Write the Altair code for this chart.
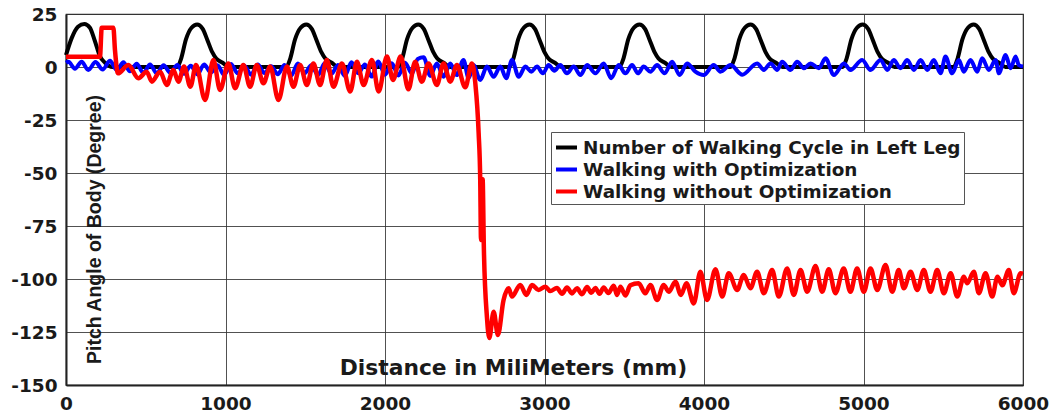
import altair as alt
import pandas as pd

SERIES = ["Number of Walking Cycle in Left Leg",
          "Walking with Optimization",
          "Walking without Optimization"]
COLORS = ["#000000", "#0000ff", "#ff0000"]

# --- black: walking-cycle bumps (distance mm, degree) ---
black_x = [0, 35, 75, 115, 150, 180, 213, 245, 290,
           697, 722, 752, 787, 822, 857, 885, 917, 942, 982, 1022,
           1381, 1406, 1436, 1471, 1506, 1541, 1569, 1601, 1626, 1666, 1706,
           2083, 2108, 2138, 2173, 2208, 2243, 2271, 2303, 2328, 2368, 2408,
           2780, 2805, 2835, 2870, 2905, 2940, 2968, 3000, 3025, 3065, 3105,
           3470, 3495, 3525, 3560, 3595, 3630, 3658, 3690, 3715, 3755, 3795,
           4166, 4191, 4221, 4256, 4291, 4326, 4354, 4386, 4411, 4451, 4491,
           4869, 4894, 4924, 4959, 4994, 5029, 5057, 5089, 5114, 5154, 5194,
           5565, 5590, 5620, 5655, 5690, 5725, 5753, 5785, 5810, 5850, 5890,
           6000]
black_y = [5.6, 13.5, 19.0, 20.3, 18.5, 12.5, 5.0, 2.0, 0.0,
           0, 4, 13, 18.5, 20, 18, 13, 7, 4, 2, 0,
           0, 4, 13, 18.5, 20, 18, 13, 7, 4, 2, 0,
           0, 4, 13, 18.5, 20, 18, 13, 7, 4, 2, 0,
           0, 4, 13, 18.5, 20, 18, 13, 7, 4, 2, 0,
           0, 4, 13, 18.5, 20, 18, 13, 7, 4, 2, 0,
           0, 4, 13, 18.5, 20, 18, 13, 7, 4, 2, 0,
           0, 4, 13, 18.5, 20, 18, 13, 7, 4, 2, 0,
           0, 4, 13, 18.5, 20, 18, 13, 7, 4, 2, 0,
           0]

# --- blue: walking with optimization (peaks / troughs) ---
blue_x = [0, 15, 56, 98, 140, 185, 230, 276, 318, 360, 401, 443, 485, 527, 569, 612, 655, 698,
          740, 782, 824, 866, 908, 950, 992, 1034, 1076, 1118, 1160, 1202, 1244, 1286, 1328, 1370,
          1412, 1454, 1496, 1538, 1580, 1622, 1664, 1706, 1748, 1790, 1832, 1874, 1916, 1958, 2000,
          2042, 2084, 2126, 2168, 2205, 2242, 2284, 2325, 2367, 2409, 2450, 2492, 2524, 2555, 2597,
          2639, 2681, 2723, 2760, 2796, 2838, 2880, 2917, 2953, 2990, 3026, 3062, 3099, 3141, 3183,
          3225, 3267, 3319, 3371, 3418, 3465, 3507, 3549, 3586, 3622, 3664, 3706, 3753, 3800, 3847,
          3894, 3946, 3998, 4061, 4103, 4166, 4240, 4333, 4375, 4417, 4459, 4490, 4542, 4584, 4626,
          4668, 4720, 4762, 4814, 4877, 4918, 4992, 5044, 5107, 5149, 5190, 5232, 5274, 5316, 5358,
          5400, 5441, 5483, 5514, 5556, 5598, 5629, 5671, 5713, 5744, 5786, 5828, 5849, 5891, 5922,
          5954, 5974, 6000]
blue_y = [2.0, 2.5, -0.8, 2.5, -1.4, 2.3, -1.2, 3.0, -1.4, 2.2, -2.0, 1.5, -2.8, 1.2, -3.0, 0.8, -2.8, 1.0,
          -3.2, 0.6, -3.5, 1.2, -2.6, 0.8, -3.8, 1.4, -3.0, 0.6, -3.6, 1.2, -2.8, 0.4, -3.4, 1.0,
          -4.0, 1.6, -3.0, 0.8, -3.8, 1.8, -3.2, 1.0, -4.2, 2.2, -3.0, 1.2, -4.5, 2.6, -3.6,
          1.8, -4.0, 2.0, -3.0, 3.8, 4.6, -4.2, 1.7, -4.6, 1.7, -3.8, 3.3, -5.3, 0.9, -6.1,
          0.2, -4.6, 0.2, -5.3, 3.3, -4.6, 0.2, -2.2, 0.2, -3.0, 0.9, -1.8, 0.9, -3.0, 0.2,
          -3.8, 0.9, -3.0, 1.7, -5.3, 0.9, -3.0, 0.9, -3.0, 0.2, -2.2, 0.9, -3.0, 2.5, -3.8,
          1.7, -2.2, -3.8, 0.9, -2.2, 0.9, -3.6, 1.7, -1.4, 1.7, -1.4, 2.5, -1.4, 2.5, -0.6,
          1.7, -0.6, 4.1, -3.8, 1.7, -1.4, 3.3, -1.4, 3.3, -1.4, 3.3, -0.6, 3.3, -1.4, 3.3,
          -1.4, 3.3, -3.0, 4.9, -3.0, 3.3, -2.2, 3.3, -2.2, 4.1, -1.4, 3.3, -3.0, 5.7, -0.6,
          4.9, 0.9, 0.2]

# --- red: walking without optimization (peaks / troughs) ---
red_x = [0, 213, 224, 297, 307, 326, 391, 454, 506, 538, 590, 632, 673, 705, 740, 780, 815, 872,
         924, 966, 1018, 1060, 1112, 1154, 1196, 1238, 1280, 1332, 1385, 1426, 1468, 1510, 1551,
         1593, 1635, 1677, 1730, 1782, 1824, 1866, 1918, 1960, 2012, 2050, 2098, 2147, 2189, 2231,
         2273, 2325, 2367, 2409, 2451, 2503, 2545, 2566, 2587, 2597, 2602, 2612, 2620, 2639, 2654,
         2681, 2708, 2743, 2775, 2796, 2848, 2886, 2922, 2963, 3005, 3036, 3078, 3110, 3141, 3172,
         3204, 3235, 3267, 3293, 3319, 3345, 3371, 3400, 3434, 3455, 3476, 3507, 3538, 3590, 3632,
         3664, 3706, 3747, 3779, 3821, 3855, 3890, 3936, 3977, 4019, 4072, 4114, 4155, 4208, 4249,
         4291, 4333, 4375, 4427, 4469, 4521, 4563, 4605, 4647, 4699, 4741, 4782, 4824, 4876, 4918,
         4960, 5002, 5044, 5086, 5138, 5180, 5221, 5253, 5295, 5337, 5378, 5420, 5462, 5504, 5546,
         5588, 5629, 5650, 5692, 5723, 5765, 5807, 5840, 5870, 5911, 5942, 5985, 6000]
red_y = [4.8, 4.8, 18.5, 18.5, 8.0, -3.0, 0.9, -5.3, -2.2, -6.9, -2.2, -8.5, -1.4, -6.9, 0.2, -9.3, 0.9, -15.6,
         3.3, -10.8, 1.7, -10.0, 0.9, -9.3, 0.9, -7.7, 0.2, -15.6, 0.2, -9.3, 0.9, -8.5, 1.7,
         -8.5, 3.3, -9.3, 1.7, -11.6, 2.5, -8.5, 3.3, -11.6, 5.0, -6.1, 4.9, -10.5, 2.5, -6.9,
         1.7, -8.5, 1.7, -6.9, 0.9, -9.6, 1.7, -7.5, -31.0, -53.0, -81.6, -53.0, -86.0, -117.8, -127.8,
         -115.4, -126.4, -110.0, -104.4, -108.3, -102.8, -107.5, -102.8, -105.2, -103.6, -105.7, -104.2, -107.0, -104.0, -106.8,
         -104.4, -107.2, -103.8, -106.5, -104.2, -107.0, -104.0, -106.6, -103.2, -107.5, -103.6, -107.8, -103.0, -102.0, -106.7,
         -102.8, -109.9, -102.8, -106.0, -101.3, -107.5, -102.0, -111.5, -96.6, -109.9, -95.4, -108.3, -97.3, -105.2, -98.1,
         -104.4, -96.6, -106.7, -95.8, -108.3, -95.0, -107.5, -95.8, -106.0, -93.9, -106.0, -95.4, -106.7, -95.0, -106.0,
         -95.0, -106.0, -95.0, -105.2, -93.4, -106.0, -95.8, -104.4, -96.6, -105.2, -95.8, -106.0, -95.8, -106.7, -97.3,
         -108.3, -98.9, -102.0, -96.6, -106.7, -97.3, -108.3, -98.9, -103.0, -95.8, -106.7, -97.3, -97.5]

X_TICKS = [0, 1000, 2000, 3000, 4000, 5000, 6000]
Y_TICKS = [-150, -125, -100, -75, -50, -25, 0, 25]

df_black = pd.DataFrame({"x": black_x, "y": black_y, "series": SERIES[0]})
df_blue = pd.DataFrame({"x": blue_x, "y": blue_y, "series": SERIES[1]})
df_red = pd.DataFrame({"x": red_x, "y": red_y, "series": SERIES[2]})

HFONT = "DejaVu Sans"
VFONT = "Liberation Sans"
TXT = "#1a1a1a"

x_enc = alt.X("x:Q",
              scale=alt.Scale(domain=[0, 6000], nice=False, zero=False),
              axis=alt.Axis(values=X_TICKS, labelExpr="datum.value + ''", labelFont=HFONT,
                            labelFontSize=18.5, labelFontWeight="bold", labelColor=TXT,
                            labelPadding=9, labelFlush=False, ticks=False,
                            domainColor="#222", domainWidth=2,
                            grid=True, gridColor="#333", gridWidth=1, gridOpacity=0.85,
                            title="Distance in MiliMeters (mm)", titleFont=HFONT,
                            titleFontSize=21.8, titleFontWeight="bold", titleColor=TXT,
                            titleX=447, titleY=-18, titleAlign="center",
                            titleBaseline="middle"))
y_enc = alt.Y("y:Q",
              scale=alt.Scale(domain=[-150, 25], nice=False, zero=False),
              axis=alt.Axis(values=Y_TICKS, labelExpr="datum.value + ''", labelFont=HFONT,
                            labelFontSize=18.5, labelFontWeight="bold", labelColor=TXT,
                            labelPadding=9, labelFlush=False, ticks=False,
                            domainColor="#222", domainWidth=2,
                            grid=True, gridColor="#333", gridWidth=1, gridOpacity=0.85,
                            title="Pitch Angle of Body (Degree)", titleFont=VFONT,
                            titleFontSize=19.5, titleFontWeight="bold", titleColor=TXT,
                            titleX=28, titleY=215, titleAngle=270, titleAlign="center",
                            titleBaseline="middle"))
color_enc = alt.Color("series:N",
                      scale=alt.Scale(domain=SERIES, range=COLORS),
                      legend=alt.Legend(title=None, orient="none", legendX=485, legendY=118,
                                        symbolType="stroke", symbolSize=441,
                                        symbolStrokeWidth=4, labelFont=HFONT,
                                        labelFontSize=18.4, labelFontWeight="bold",
                                        labelColor=TXT, labelOffset=4, rowPadding=0,
                                        padding=3, fillColor="white", strokeColor="#555",
                                        labelLimit=600))

def layer(df, width):
    return alt.Chart(df).mark_line(strokeWidth=width, interpolate="monotone").encode(
        x=x_enc, y=y_enc, color=color_enc, order="x:Q")

chart = alt.layer(layer(df_black, 4), layer(df_blue, 4), layer(df_red, 4.5)).properties(
    width=957, height=371,
    padding={"left": 66, "top": 14, "right": 29, "bottom": 33},
    autosize=alt.AutoSizeParams(type="none"),
    background="white",
).configure_view(stroke="#333", strokeWidth=1.2)

chart.save("out.html", embed_options={"renderer": "svg", "actions": False})
